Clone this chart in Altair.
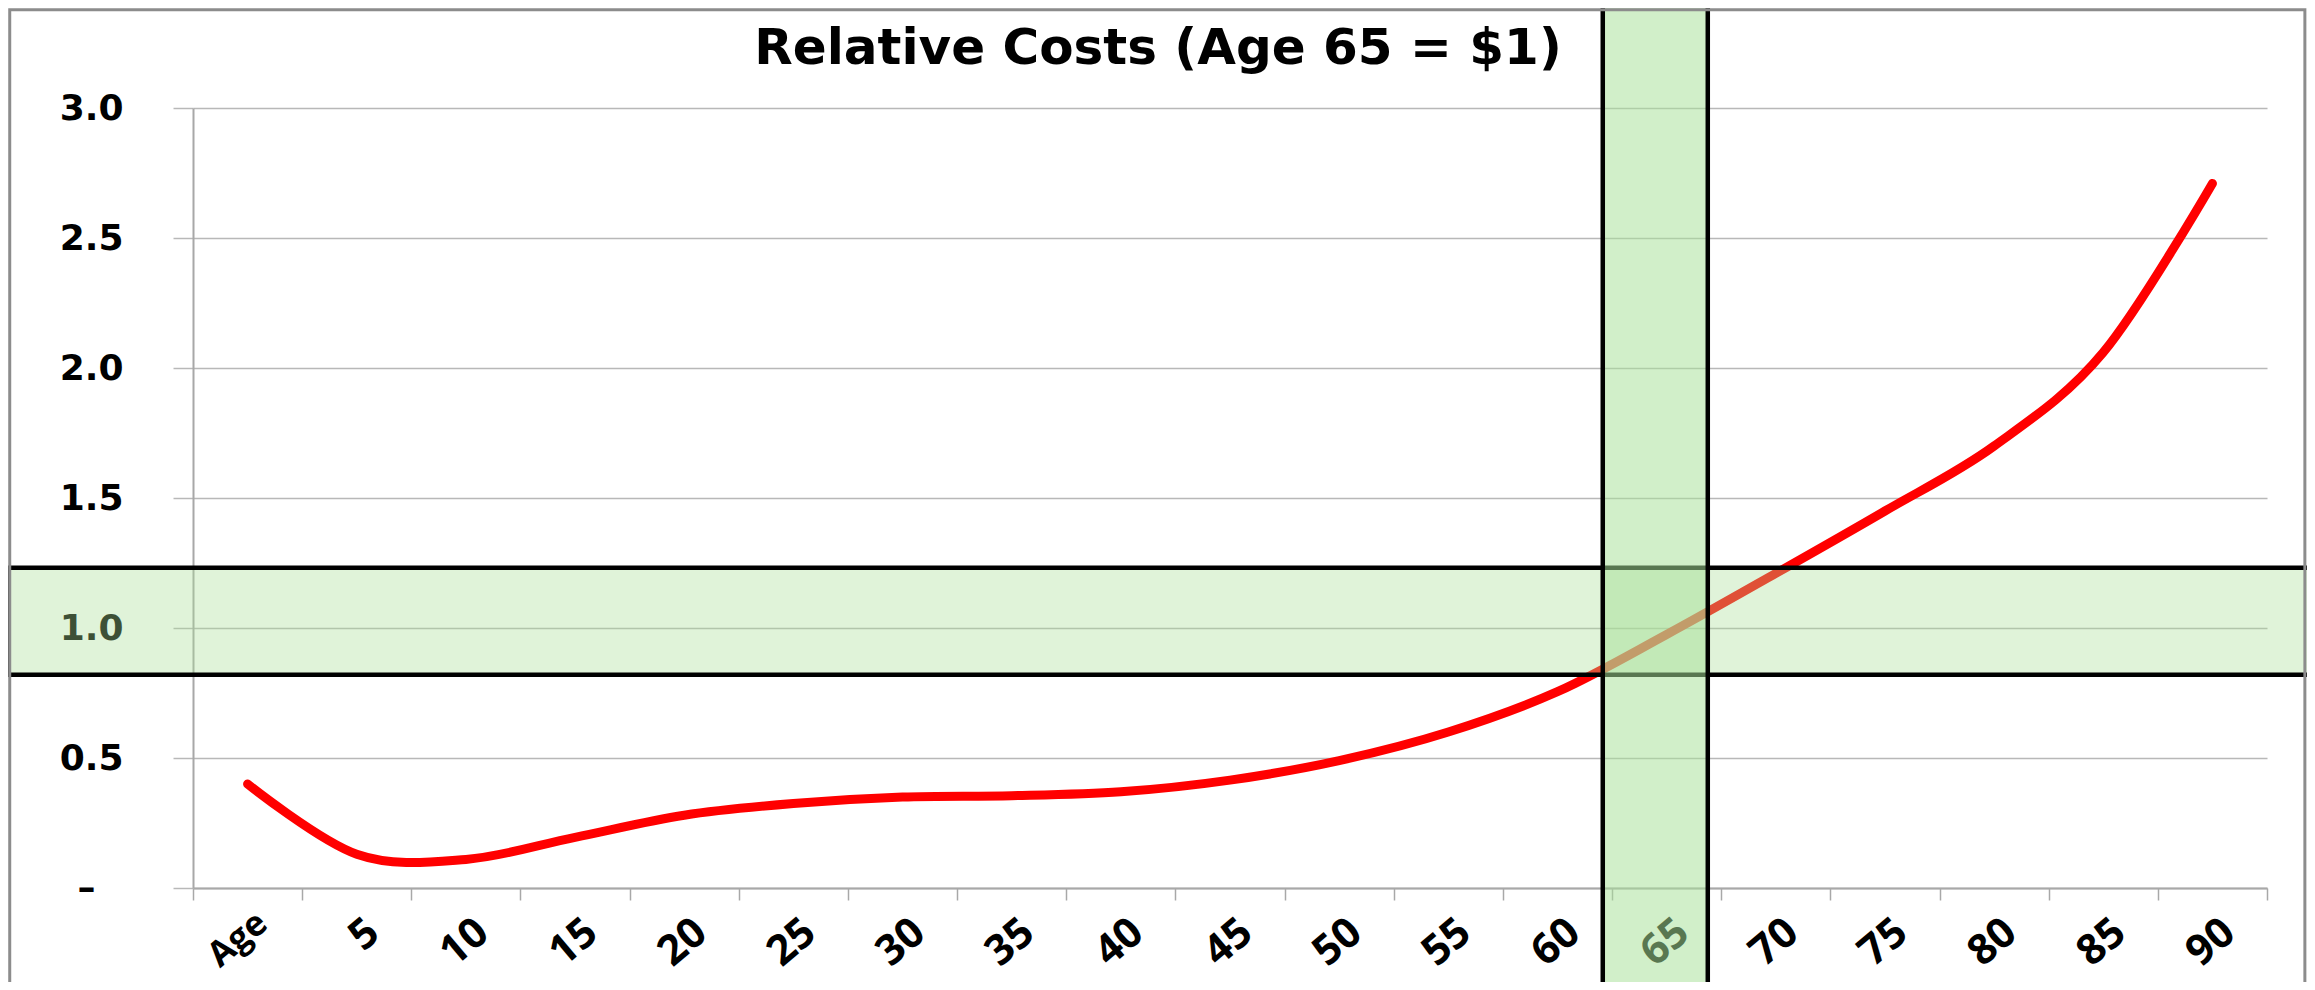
import altair as alt
import pandas as pd

# ---------------- data ----------------
ages = [0, 5, 10, 15, 20, 25, 30, 35, 40, 45, 50, 55, 60, 65, 70, 75, 80, 85, 90]
relative_cost = [0.40, 0.13, 0.11, 0.195, 0.28, 0.325, 0.35, 0.355, 0.37, 0.415,
                 0.49, 0.60, 0.755, 0.975, 1.21, 1.45, 1.70, 2.06, 2.71]
x_tick_labels = ["Age", "5", "10", "15", "20", "25", "30", "35", "40", "45",
                 "50", "55", "60", "65", "70", "75", "80", "85", "90"]
x_tick_slots = list(range(0, 20))          # category boundaries (19 categories)
y_ticks = [0.0, 0.5, 1.0, 1.5, 2.0, 2.5, 3.0]
title_text = "Relative Costs (Age 65 = $1)"

# highlight boxes, in axis units (x: category slots, y: relative cost)
cost_band_x = [-1.69, 19.39]
cost_band_y = [0.82, 1.232]
age_band_x = [12.915, 13.877]
age_band_y = [-0.5, 3.396]
frame_x = [-1.679, 19.347]
frame_y = [-0.5, 3.378]

# ---------------- tables ----------------
df = pd.DataFrame({"age": ages, "cost": relative_cost})
df["slot"] = df["age"] / 5 + 0.5

cost_band = pd.DataFrame({"x1": [cost_band_x[0]], "x2": [cost_band_x[1]],
                          "y1": [cost_band_y[0]], "y2": [cost_band_y[1]]})
age_band = pd.DataFrame({"x1": [age_band_x[0]], "x2": [age_band_x[1]],
                         "y1": [age_band_y[0]], "y2": [age_band_y[1]]})
frame = pd.DataFrame({"x1": [frame_x[0]], "x2": [frame_x[1]],
                      "y1": [frame_y[0]], "y2": [frame_y[1]]})
title_df = pd.DataFrame({"t": [title_text]})

GRID = "#b8b8b8"
AXIS = "#a8a8a8"

label_js = "[" + ",".join("'" + t + "'" for t in x_tick_labels) + "]"

x_scale = alt.Scale(domain=[0, 19], nice=False, zero=False)
y_scale = alt.Scale(domain=[0, 3], nice=False, zero=False)

x_axis = alt.Axis(
    values=x_tick_slots, title=None, grid=False,
    labelExpr=label_js + "[datum.value] || ''",
    labelAngle=-40, labelAlign="right", labelBaseline="top",
    labelOffset=58,
    labelPadding={"condition": {"test": "datum.value == 0", "value": 5}, "value": 11},
    labelFlush=False, labelOverlap=False,
    labelFont="Open Sans", labelFontWeight="bold",
    labelFontSize={"condition": {"test": "datum.value == 0", "value": 35}, "value": 42},
    labelColor="black",
    tickSize=12, tickColor=AXIS, tickWidth=1.5,
    domainColor=AXIS, domainWidth=2,
)
y_axis = alt.Axis(
    values=y_ticks, title=None, grid=True, gridColor=GRID, gridWidth=1.5,
    labelExpr="datum.value == 0 ? '\u2013' : format(datum.value, '.1f')",
    labelFont="DejaVu Sans", labelFontWeight="bold", labelFontSize=36,
    labelColor="black",
    labelPadding={"condition": {"test": "datum.value == 0", "value": 78}, "value": 50},
    tickSize=20, tickColor=GRID, tickWidth=1.5,
    domainColor=AXIS, domainWidth=2,
)

line = alt.Chart(df).mark_line(
    color="#ff0000", strokeWidth=9, strokeCap="round", strokeJoin="round",
    interpolate="cardinal", tension=0,
).encode(
    x=alt.X("slot:Q", scale=x_scale, axis=x_axis),
    y=alt.Y("cost:Q", scale=y_scale, axis=y_axis),
)


def box(data, fill, opacity, stroke, width):
    return alt.Chart(data).mark_rect(
        fill=fill, fillOpacity=opacity, stroke=stroke, strokeWidth=width
    ).encode(
        x=alt.X("x1:Q", scale=x_scale, axis=x_axis),
        x2="x2:Q",
        y=alt.Y("y1:Q", scale=y_scale, axis=y_axis),
        y2="y2:Q",
    )


cost_box = box(cost_band, "#a9df97", 0.36, "black", 4.5)
age_box = box(age_band, "#a8e199", 0.53, "black", 4.5)
frame_box = box(frame, "white", 0, "#8c8c8c", 3)

title = alt.Chart(title_df).mark_text(
    font="DejaVu Sans", fontWeight="bold", fontSize=50, align="center",
    baseline="alphabetic", color="black",
).encode(text="t:N", x=alt.value(965), y=alt.value(-44))

chart = alt.layer(line, cost_box, age_box, title, frame_box).properties(
    width=2074, height=780,
    autosize=alt.AutoSizeParams(type="none"),
    padding={"left": 185, "top": 100, "right": 40, "bottom": 94},
    background="white",
).configure_view(strokeWidth=0)

chart.save("out.html", embed_options={"renderer": "svg", "actions": False})
